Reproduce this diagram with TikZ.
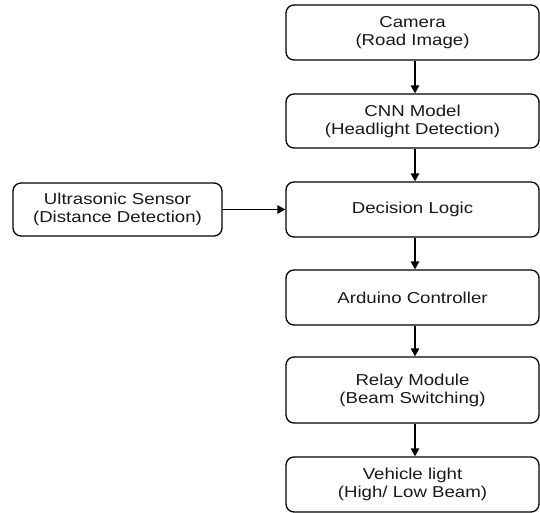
\documentclass[tikz,border=0pt]{standalone}
\usepackage{fontspec}
\newfontfamily\boxfont[FakeStretch=1.18]{Liberation Sans}
\usetikzlibrary{arrows.meta}
\begin{document}
\begin{tikzpicture}[x=1pt,y=-1pt,
  blk/.style={draw=black, line width=1.3pt, rounded corners=8pt, align=center,
    font=\boxfont\fontsize{15.8}{18}\selectfont, text=black!90, inner sep=0pt},
  mainblk/.style={blk, minimum width=253pt},
  arr/.style={line width=1.3pt, -{Triangle[length=8pt,width=8.5pt]}}]
\useasboundingbox (0,0) rectangle (540,513);
\node[mainblk, minimum height=55pt] (cam) at (412.5,32.5) {Camera\\(Road Image)};
\node[mainblk, minimum height=54pt] (cnn) at (412.5,121) {CNN Model\\(Headlight Detection)};
\node[mainblk, minimum height=55pt] (dec) at (412.5,209.5) {Decision Logic};
\node[mainblk, minimum height=55pt] (ard) at (412.5,297.5) {Arduino Controller};
\node[mainblk, minimum height=66pt] (rel) at (412.5,390) {Relay Module\\(Beam Switching)};
\node[mainblk, minimum height=55pt] (veh) at (412.5,484.5) {Vehicle light\\(High/ Low Beam)};
\node[blk, minimum width=209pt, minimum height=53pt] (ult) at (117.5,209.5) {Ultrasonic Sensor\\(Distance Detection)};
\draw[arr] ([xshift=2.5pt]cam.south) -- ([xshift=2.5pt]cnn.north);
\draw[arr] ([xshift=2.5pt]cnn.south) -- ([xshift=2.5pt]dec.north);
\draw[arr] ([xshift=2.5pt]dec.south) -- ([xshift=2.5pt]ard.north);
\draw[arr] ([xshift=2.5pt]ard.south) -- ([xshift=2.5pt]rel.north);
\draw[arr] ([xshift=2.5pt]rel.south) -- ([xshift=2.5pt]veh.north);
\draw[arr] (ult.east) -- (dec.west);
\end{tikzpicture}
\end{document}
